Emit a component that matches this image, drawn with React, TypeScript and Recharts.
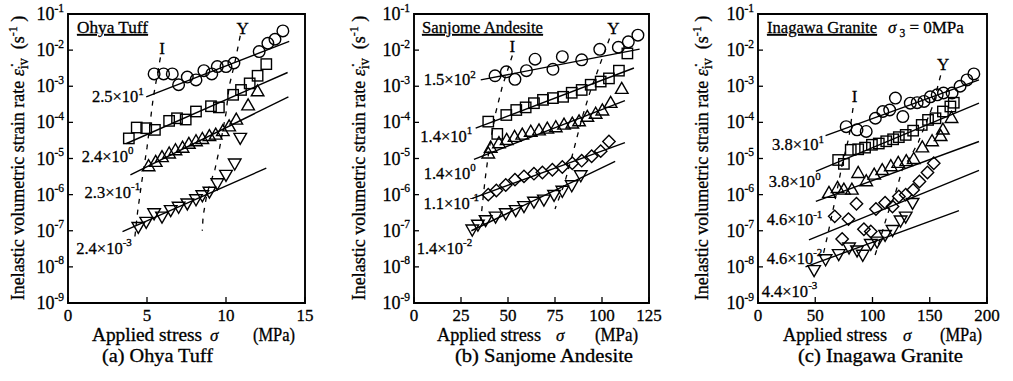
import React from 'react';
import { ComposedChart, Scatter, XAxis, YAxis, ReferenceArea } from 'recharts';

const SERIF = '"Liberation Serif", "Times New Roman", Times, serif';

type Pt = [number, number];

const decadeTicks = [1e-9, 1e-8, 1e-7, 1e-6, 1e-5, 1e-4, 1e-3, 1e-2, 1e-1];

// (a) Ohya Tuff
const ohyaXTicks = [0, 5, 10, 15];
const ohyaCircles: Pt[] = [[5.45, 2.2e-3], [6.05, 2.2e-3], [6.6, 2.2e-3], [7.0, 1.1e-3], [7.55, 1.8e-3], [8.1, 1.5e-3], [8.6, 2.7e-3], [9.1, 2.2e-3], [9.45, 3.5e-3], [10.0, 3.5e-3], [10.5, 4.4e-3], [12.1, 9.1e-3], [12.65, 1.55e-2], [13.1, 2.0e-2], [13.6, 3.4e-2]];
const ohyaSquares: Pt[] = [[3.85, 3.6e-5], [4.35, 7.2e-5], [4.95, 6.9e-5], [5.5, 6.2e-5], [6.4, 1.1e-4], [6.9, 1.3e-4], [7.45, 1.2e-4], [8.1, 2.0e-4], [9.05, 2.8e-4], [9.55, 2.6e-4], [10.45, 5.8e-4], [10.95, 7.9e-4], [11.5, 1.2e-3], [12.0, 1.95e-3], [12.55, 4.1e-3]];
const ohyaTriangles: Pt[] = [[5.1, 6.0e-6], [5.55, 7.9e-6], [5.95, 1.07e-5], [6.4, 1.35e-5], [6.8, 1.66e-5], [7.25, 1.95e-5], [7.65, 2.5e-5], [8.1, 2.95e-5], [8.5, 3.4e-5], [8.95, 4.1e-5], [9.35, 4.5e-5], [9.8, 5.6e-5], [10.2, 7.6e-5], [10.65, 1.17e-4], [11.4, 2.9e-4], [12.0, 7.1e-4]];
const ohyaDown: Pt[] = [[4.45, 1.3e-7], [4.95, 1.8e-7], [5.45, 3.1e-7], [5.95, 2.5e-7], [6.5, 3.8e-7], [7.0, 4.7e-7], [7.55, 5.8e-7], [8.1, 7.6e-7], [8.5, 9.8e-7], [8.95, 1.23e-6], [9.45, 2.1e-6], [10.0, 3.6e-6], [10.55, 7.4e-6], [10.9, 3.8e-5]];
const ohyaFits: Pt[][] = [
  [[4.95, 5.1e-4], [14.0, 1.74e-2]],
  [[3.7, 2.6e-5], [13.9, 2.4e-3]],
  [[3.95, 3.5e-6], [13.95, 5.1e-4]],
  [[3.45, 9.5e-8], [12.55, 5.4e-6]],
];
const ohyaILine: Pt[] = [[5.85, 6.3e-3], [5.4, 5e-4], [5.0, 2e-5], [4.65, 2e-6], [4.4, 3.2e-7], [4.2, 5e-8]];
const ohyaYLine: Pt[] = [[10.9, 2.5e-2], [10.55, 4.3e-3], [10.2, 1e-3], [10.0, 1.8e-4], [9.6, 2e-5], [9.3, 5e-6], [8.8, 1.1e-6], [8.55, 2.5e-7], [8.5, 1e-7]];
const ohyaRateAt: Pt[] = [[4.8, 5.1e-4], [4.15, 1.15e-5], [4.57, 1.15e-6], [4.04, 3.3e-8]];
const ohyaRateMant = ['2.5', '2.4', '2.3', '2.4'];
const ohyaRateExp = ['1', '0', '-1', '-3'];
const ohyaIMark: Pt = [5.95, 1.1e-2];
const ohyaYMark: Pt = [11.06, 4.0e-2];

// (b) Sanjome Andesite
const sanXTicks = [0, 25, 50, 75, 100, 125];
const sanCircles: Pt[] = [[43.1, 1.95e-3], [49.1, 2.5e-3], [53.7, 1.55e-3], [59.8, 2.7e-3], [64.4, 5.6e-3], [73.9, 2.95e-3], [78.9, 6.6e-3], [89.2, 5.4e-3], [98.8, 1.05e-2], [108.7, 1.2e-2], [114.0, 1.7e-2], [119.1, 2.6e-2]];
const sanSquares: Pt[] = [[39.5, 1.05e-4], [44.3, 4.8e-5], [49.1, 1.6e-4], [54.4, 2.2e-4], [59.4, 2.6e-4], [63.8, 3.4e-4], [68.6, 4.2e-4], [73.9, 4.7e-4], [79.3, 5.1e-4], [83.9, 6.6e-4], [89.2, 7.9e-4], [94.0, 1.1e-3], [99.3, 1.35e-3], [103.7, 1.65e-3], [109.0, 2.7e-3], [113.5, 8.1e-3]];
const sanTriangles: Pt[] = [[39.5, 1.35e-5], [40.8, 1.95e-5], [45.2, 2.6e-5], [49.3, 3.2e-5], [53.5, 3.9e-5], [57.6, 4.5e-5], [62.1, 5.4e-5], [66.5, 5.9e-5], [70.9, 6.6e-5], [75.4, 7.2e-5], [79.8, 8.5e-5], [84.2, 9.1e-5], [87.8, 1.05e-4], [92.2, 1.4e-4], [96.6, 1.7e-4], [100.2, 2.1e-4], [104.6, 3.4e-4], [110.5, 8.3e-4]];
const sanDiamonds: Pt[] = [[39.5, 1.0e-6], [43.8, 1.3e-6], [48.8, 1.85e-6], [53.7, 2.6e-6], [58.5, 3.2e-6], [63.8, 3.8e-6], [68.3, 4.1e-6], [73.6, 4.9e-6], [78.9, 5.8e-6], [84.2, 7.4e-6], [89.2, 8.7e-6], [94.5, 1.15e-5], [99.3, 1.6e-5], [103.7, 2.95e-5]];
const sanDown: Pt[] = [[31, 1.1e-7], [34, 1.5e-7], [38.1, 2.0e-7], [43.4, 2.5e-7], [48.8, 3.1e-7], [54.1, 3.8e-7], [58.5, 4.9e-7], [63.8, 6.5e-7], [69.1, 7.4e-7], [74.5, 1.0e-6], [78.9, 1.3e-6], [83.9, 1.85e-6], [88.7, 3.5e-6]];
const sanFits: Pt[][] = [
  [[35.5, 1.5e-3], [120, 1.07e-2]],
  [[32.8, 6.9e-5], [117, 3.2e-3]],
  [[31.9, 9.5e-6], [112.2, 4.0e-4]],
  [[31, 7.9e-7], [112.2, 2.75e-5]],
  [[30.5, 1e-7], [107, 8.3e-6]],
];
const sanILine: Pt[] = [[52.3, 7.1e-3], [47, 1e-3], [43.4, 1.8e-4], [39.9, 1.74e-5], [37.8, 2.6e-6], [35.5, 2.0e-7]];
const sanYLine: Pt[] = [[104, 2.1e-2], [98.5, 3.5e-3], [94, 7.9e-4], [89.5, 1.4e-4], [84.5, 1.4e-5], [80, 2e-6], [75, 4e-7]];
const sanRateAt: Pt[] = [[32.8, 1.5e-3], [31, 4.1e-5], [32.8, 3.9e-6], [34.6, 5.8e-7], [31, 3.3e-8]];
const sanRateMant = ['1.5', '1.4', '1.4', '1.1', '1.4'];
const sanRateExp = ['2', '1', '0', '-1', '-2'];
const sanIMark: Pt = [52.3, 1.26e-2];
const sanYMark: Pt = [106, 4.0e-2];

// (c) Inagawa Granite
const graXTicks = [0, 50, 100, 150, 200];
const graCircles: Pt[] = [[77, 7.6e-5], [86.5, 6.2e-5], [94.5, 5.6e-5], [102.5, 1.3e-4], [109, 2.0e-4], [115, 2.2e-4], [120, 4.7e-4], [126.5, 1.45e-4], [133, 3.4e-4], [139, 3.5e-4], [145, 3.8e-4], [150.5, 5.1e-4], [156.5, 5.8e-4], [162, 6.5e-4], [169.5, 6.5e-4], [176.5, 1.0e-3], [182.5, 1.5e-3], [188.5, 2.2e-3]];
const graSquares: Pt[] = [[70, 9.1e-6], [75, 7.1e-6], [81, 1.74e-5], [87.5, 1.8e-5], [93.5, 2.0e-5], [99.5, 2.4e-5], [105.5, 2.6e-5], [112, 3.0e-5], [118, 3.4e-5], [123, 3.9e-5], [129, 4.5e-5], [135.5, 5.9e-5], [143, 8.5e-5], [148.5, 1.17e-4], [155, 1.3e-4], [161.5, 2.0e-4], [168, 2.75e-4], [171, 3.5e-4]];
const graTriangles: Pt[] = [[62, 1.1e-6], [69.5, 1.5e-6], [75, 1.35e-6], [82, 1.35e-6], [87.5, 3.9e-6], [94.5, 2.3e-6], [101.5, 3.5e-6], [108.5, 4.7e-6], [116, 6.0e-6], [122.5, 7.4e-6], [129.5, 8.3e-6], [136, 9.5e-6], [143.5, 2.0e-5], [152, 2.95e-5], [159.5, 4.1e-5], [161.5, 6.2e-5], [169, 1.3e-4]];
const graDiamonds: Pt[] = [[67, 2.5e-7], [73.5, 5.9e-8], [79, 2.1e-7], [86, 5.6e-7], [92.5, 1.1e-7], [98.5, 9.5e-8], [103, 4.0e-7], [111, 6.0e-7], [117.5, 4.7e-7], [123, 8.9e-7], [129, 1.0e-6], [135.5, 1.35e-6], [141, 2.3e-6], [148, 4.1e-6], [153.5, 7.4e-6]];
const graDown: Pt[] = [[49, 8.3e-9], [59, 1.66e-8], [70.5, 2.3e-8], [79.5, 3.5e-8], [86.5, 2.9e-8], [91.5, 2.2e-8], [98.5, 4.4e-8], [104, 5.1e-8], [111, 7.8e-8], [117.5, 1.07e-7], [124.5, 1.95e-7], [129, 2.5e-7], [135, 6.0e-7]];
const graFits: Pt[][] = [
  [[59, 4.3e-5], [193, 1.5e-3]],
  [[50.5, 4.4e-6], [193, 3.4e-4]],
  [[50.5, 6.5e-7], [193, 2.95e-5]],
  [[44.5, 5.6e-8], [193, 4.7e-6]],
  [[41.5, 1.0e-8], [175.5, 3.6e-7]],
];
const graILine: Pt[] = [[83, 2.5e-4], [79.5, 4e-5], [73.6, 7e-6], [67, 6.3e-7], [61, 8e-8], [56, 1.6e-8]];
const graYLine: Pt[] = [[159.5, 2e-3], [152.5, 2.8e-4], [140, 2.8e-5], [133, 1.1e-5], [126, 5e-6], [120, 1.1e-6], [113, 2.8e-7], [106, 5e-8], [101, 1.6e-8]];
const graRateAt: Pt[] = [[57.6, 2.4e-5], [54.7, 2.3e-6], [56.2, 2.0e-7], [56.2, 1.74e-8], [51.8, 2.1e-9]];
const graRateMant = ['3.8', '3.8', '4.6', '4.6', '4.4'];
const graRateExp = ['1', '0', '-1', '-2', '-3'];
const graIMark: Pt = [84.3, 5.1e-4];
const graYMark: Pt = [161.6, 3.9e-3];

const rows = (pts: Pt[]) => pts.map(([x, y]) => ({ x, y }));

const marker = (kind: string) => (props: any) => {
  const { cx, cy } = props;
  if (cx == null || cy == null) return <g />;
  const s = { fill: 'none', stroke: '#000', strokeWidth: 1.4 };
  if (kind === 'circle') return <circle cx={cx} cy={cy} r={5.8} {...s} />;
  if (kind === 'square') return <rect x={cx - 5.2} y={cy - 5.2} width={10.4} height={10.4} {...s} />;
  if (kind === 'up') return <polygon points={`${cx},${cy - 6.8} ${cx - 6.3},${cy + 4.2} ${cx + 6.3},${cy + 4.2}`} {...s} />;
  if (kind === 'down') return <polygon points={`${cx},${cy + 6.8} ${cx - 6.3},${cy - 4.2} ${cx + 6.3},${cy - 4.2}`} {...s} />;
  return <polygon points={`${cx},${cy - 6.2} ${cx + 6.2},${cy} ${cx},${cy + 6.2} ${cx - 6.2},${cy}`} {...s} />;
};

const noDot = () => <g />;

// scanned print looks heavy, thicken the glyphs slightly
const ink = { fontFamily: SERIF, fill: '#000', stroke: '#000', strokeWidth: 0.3 } as const;
const fit = { lengthAdjust: 'spacingAndGlyphs' } as const;

const YTick = ({ x, y, payload }: any) => {
  const e = Math.round(Math.log10(payload.value));
  return (
    <g>
      <line x1={x} x2={x + 5} y1={y} y2={y} stroke="#000" strokeWidth={1.3} />
      <text x={x - 4} y={y + 6} textAnchor="end" fontSize={18} {...ink}>
        10<tspan fontSize={11.5} dy={-8.5}>{e}</tspan>
      </text>
    </g>
  );
};

const XTick = ({ x, y, payload }: any) => (
  <g>
    <line x1={x} x2={x} y1={y} y2={y - 6} stroke="#000" strokeWidth={1.3} />
    <text x={x} y={y + 18} textAnchor="middle" fontSize={17} {...ink}>
      {payload.value}
    </text>
  </g>
);

interface PanelDef {
  left: number;
  width: number;
  yAxisWidth: number;
  marginRight: number;
  xMax: number;
  xTicks: number[];
  circles: Pt[];
  squares: Pt[];
  triangles: Pt[];
  diamonds?: Pt[];
  downs: Pt[];
  fits: Pt[][];
  iLine: Pt[];
  yLine: Pt[];
  rateAt: Pt[];
  rateMant: string[];
  rateExp: string[];
  iMark: Pt;
  yMark: Pt;
}

function Panel(p: PanelDef) {
  const rateRows = p.rateAt.map(([x, y], i) => ({ x, y, m: p.rateMant[i], e: p.rateExp[i] }));
  const letterRows = [
    { x: p.iMark[0], y: p.iMark[1], t: 'I' },
    { x: p.yMark[0], y: p.yMark[1], t: 'Y' },
  ];
  return (
    <div style={{ position: 'absolute', left: p.left, top: 0 }}>
      <ComposedChart width={p.width} height={381} margin={{ top: 14, right: p.marginRight, bottom: 0, left: 0 }}>
        <XAxis
          type="number"
          dataKey="x"
          domain={[0, p.xMax]}
          ticks={p.xTicks}
          allowDataOverflow
          interval={0}
          height={78}
          axisLine={false}
          tickLine={false}
          tickSize={0}
          tickMargin={0}
          tick={(t: any) => <XTick {...t} />}
        />
        <YAxis
          type="number"
          dataKey="y"
          scale="log"
          domain={[1e-9, 1e-1]}
          ticks={decadeTicks}
          allowDataOverflow
          interval={0}
          width={p.yAxisWidth}
          axisLine={false}
          tickLine={false}
          tickSize={0}
          tickMargin={0}
          tick={(t: any) => <YTick {...t} />}
        />
        <ReferenceArea x1={0} x2={p.xMax} y1={1e-9} y2={1e-1} fill="none" stroke="#000" strokeWidth={1.9} ifOverflow="visible" />
        {p.fits.map((f, i) => (
          <Scatter key={`fit-${i}`} data={rows(f)} line={{ stroke: '#000', strokeWidth: 1.4 }} shape={noDot} isAnimationActive={false} />
        ))}
        <Scatter data={rows(p.iLine)} line={{ stroke: '#000', strokeWidth: 1.3, strokeDasharray: '5 6' }} shape={noDot} isAnimationActive={false} />
        <Scatter data={rows(p.yLine)} line={{ stroke: '#000', strokeWidth: 1.3, strokeDasharray: '5 6' }} shape={noDot} isAnimationActive={false} />
        <Scatter data={rows(p.circles)} shape={marker('circle')} isAnimationActive={false} />
        <Scatter data={rows(p.squares)} shape={marker('square')} isAnimationActive={false} />
        <Scatter data={rows(p.triangles)} shape={marker('up')} isAnimationActive={false} />
        {p.diamonds && <Scatter data={rows(p.diamonds)} shape={marker('diamond')} isAnimationActive={false} />}
        <Scatter data={rows(p.downs)} shape={marker('down')} isAnimationActive={false} />
        <Scatter
          data={rateRows}
          isAnimationActive={false}
          shape={(s: any) => (
            <text x={s.cx} y={s.cy + 5.5} textAnchor="end" fontSize={16.5} {...ink}>
              {s.payload.m}×10<tspan fontSize={11} dy={-7.5}>{s.payload.e}</tspan>
            </text>
          )}
        />
        <Scatter
          data={letterRows}
          isAnimationActive={false}
          shape={(s: any) => (
            <text x={s.cx} y={s.cy + 5.5} textAnchor="middle" fontSize={17} {...ink}>
              {s.payload.t}
            </text>
          )}
        />
      </ComposedChart>
    </div>
  );
}

function YTitle({ x, y }: { x: number; y: number }) {
  return (
    <text transform={`translate(${x},${y}) rotate(-90)`} textAnchor="middle" fontSize={18} style={{ whiteSpace: 'pre' }} {...ink}>
      {'Inelastic volumetric strain rate '}
      <tspan fontStyle="italic">{'\u03b5\u0307'}</tspan>
      <tspan fontSize={14} dy={4}>iv</tspan>
      <tspan dy={-4}>{'  (s'}</tspan>
      <tspan fontSize={12} dy={-7}>-1</tspan>
      <tspan dy={7}>{' )'}</tspan>
    </text>
  );
}

// spans: start/width of "Applied stress", position of σ, end/width of "(MPa)"
function XTitle({ a, aw, s, b, bw }: { a: number; aw: number; s: number; b: number; bw: number }) {
  return (
    <g>
      <text x={a} y={341} fontSize={18} textLength={aw} {...fit} {...ink}>Applied stress</text>
      <text x={s} y={341} fontSize={17} fontStyle="italic" {...ink}>σ</text>
      <text x={b - bw} y={341} fontSize={18} textLength={bw} {...fit} {...ink}>(MPa)</text>
    </g>
  );
}

export default function App() {
  return (
    <div style={{ position: 'absolute', left: 0, top: 0, width: 1013, height: 381, background: '#fff', overflow: 'hidden' }}>
      <Panel
        left={0} width={340} yAxisWidth={68} marginRight={35} xMax={15} xTicks={ohyaXTicks}
        circles={ohyaCircles} squares={ohyaSquares} triangles={ohyaTriangles} downs={ohyaDown}
        fits={ohyaFits} iLine={ohyaILine} yLine={ohyaYLine}
        rateAt={ohyaRateAt} rateMant={ohyaRateMant} rateExp={ohyaRateExp} iMark={ohyaIMark} yMark={ohyaYMark}
      />
      <Panel
        left={340} width={340} yAxisWidth={74} marginRight={31} xMax={125} xTicks={sanXTicks}
        circles={sanCircles} squares={sanSquares} triangles={sanTriangles} diamonds={sanDiamonds} downs={sanDown}
        fits={sanFits} iLine={sanILine} yLine={sanYLine}
        rateAt={sanRateAt} rateMant={sanRateMant} rateExp={sanRateExp} iMark={sanIMark} yMark={sanYMark}
      />
      <Panel
        left={676} width={337} yAxisWidth={82} marginRight={26} xMax={200} xTicks={graXTicks}
        circles={graCircles} squares={graSquares} triangles={graTriangles} diamonds={graDiamonds} downs={graDown}
        fits={graFits} iLine={graILine} yLine={graYLine}
        rateAt={graRateAt} rateMant={graRateMant} rateExp={graRateExp} iMark={graIMark} yMark={graYMark}
      />
      <svg width={1013} height={381} style={{ position: 'absolute', left: 0, top: 0, pointerEvents: 'none' }}>
        <YTitle x={24} y={158} />
        <YTitle x={365} y={158} />
        <YTitle x={708} y={158} />

        <XTitle a={92} aw={110} s={210} b={295} bw={42} />
        <XTitle a={437} aw={104} s={556} b={638} bw={43} />
        <XTitle a={783} aw={104} s={903} b={982} bw={42} />

        <text x={102} y={362} fontSize={18} textLength={111} {...fit} {...ink}>(a) Ohya Tuff</text>
        <text x={455} y={362} fontSize={18} textLength={178} {...fit} {...ink}>(b) Sanjome Andesite</text>
        <text x={798} y={362} fontSize={18} textLength={165} {...fit} {...ink}>(c) Inagawa Granite</text>

        <text x={77} y={33} fontSize={17} textLength={71} textDecoration="underline" {...fit} {...ink}>Ohya Tuff</text>
        <text x={422} y={33} fontSize={17} textLength={121} textDecoration="underline" {...fit} {...ink}>Sanjome Andesite</text>
        <text x={767} y={33} fontSize={17} textLength={110} textDecoration="underline" {...fit} {...ink}>Inagawa Granite</text>
        <text x={888} y={33} fontSize={17} style={{ whiteSpace: 'pre' }} {...ink}>
          <tspan fontStyle="italic">σ</tspan>
          <tspan fontSize={11.5} dx={3} dy={4}>3</tspan>
          <tspan dy={-4}>{' = 0MPa'}</tspan>
        </text>
      </svg>
    </div>
  );
}
